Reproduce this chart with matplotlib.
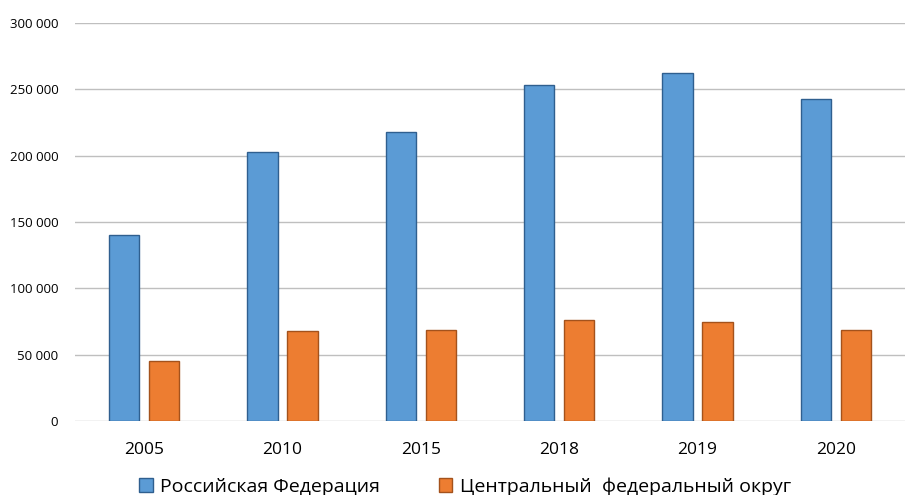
import numpy as np
import matplotlib.pyplot as plt
from matplotlib.ticker import FuncFormatter

years = ["2005", "2010", "2015", "2018", "2019", "2020"]
russia = [140300, 202500, 217500, 253500, 262200, 242600]
central = [45500, 67500, 68800, 76000, 75000, 68600]

plt.rcParams['font.family'] = ['Open Sans', 'DejaVu Sans']

fig = plt.figure(figsize=(9.05, 4.95), dpi=100)
ax = fig.add_axes([75 / 905, 74 / 495, 830 / 905, 398 / 495])

x = np.arange(len(years))
w = 0.22
gap = 0.07
ax.bar(x - (w + gap) / 2, russia, w, color='#5B9BD5', edgecolor='#2F5F8F',
       linewidth=1.0, label='Российская Федерация', zorder=3)
ax.bar(x + (w + gap) / 2, central, w, color='#ED7D31', edgecolor='#A4521C',
       linewidth=1.0, label='Центральный  федеральный округ', zorder=3)

ax.set_xlim(-0.5, len(years) - 0.5)
ax.set_ylim(0, 300000)
ax.set_yticks(range(0, 300001, 50000))
ax.yaxis.set_major_formatter(FuncFormatter(lambda v, p: f"{int(v):,}".replace(",", " ")))
ax.set_xticks(x)
ax.set_xticklabels(years, fontsize=12.5)
ax.tick_params(axis='y', labelsize=9.5, length=0, pad=12)
ax.tick_params(axis='x', length=0, pad=15)
ax.grid(axis='y', color='#BFBFBF', linewidth=1.0, zorder=0)
for s in ax.spines.values():
    s.set_visible(False)

ax.legend(loc='center', bbox_to_anchor=(0.47, -0.165), ncol=2, frameon=False,
          fontsize=14, handlelength=0.7, handleheight=0.7, handletextpad=0.4,
          columnspacing=3.0, borderpad=0)

fig.savefig('out.png', dpi=100)
